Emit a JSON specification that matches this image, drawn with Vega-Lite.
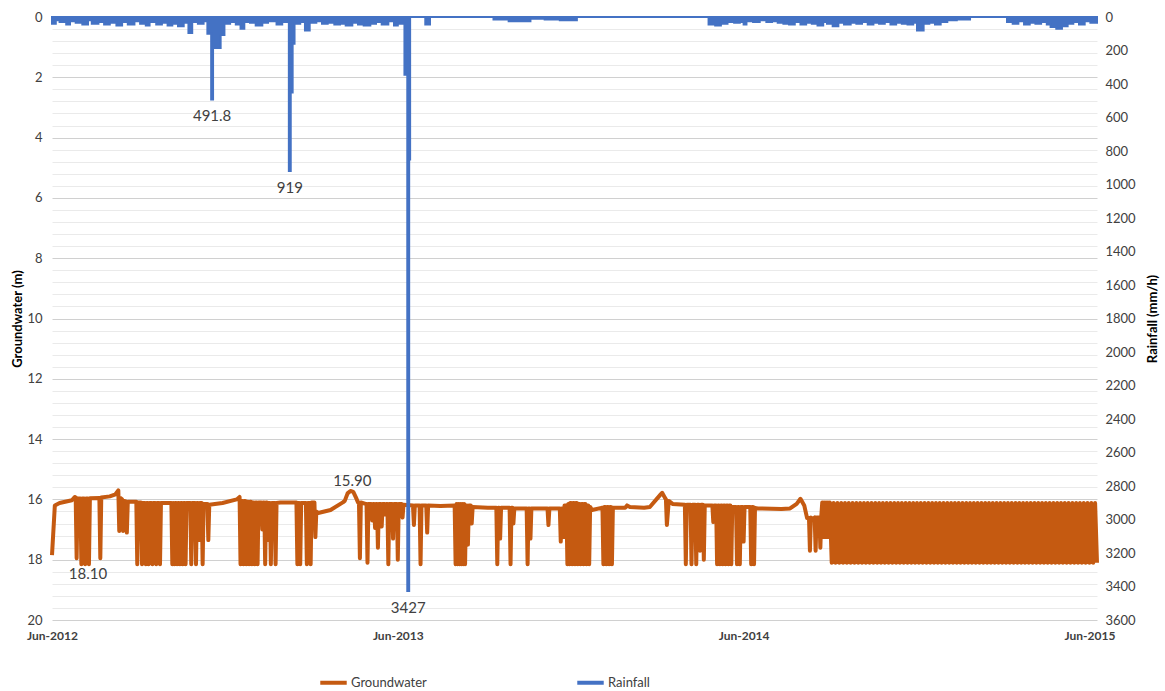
{
  "$schema": "https://vega.github.io/schema/vega-lite/v6.json",
  "width": 1045,
  "height": 603,
  "autosize": {"type": "none"},
  "padding": {"left": 52, "top": 17, "right": 68, "bottom": 71},
  "background": "white",
  "config": {"view": {"stroke": null}, "font": "Lato"},
  "datasets": {
    "gw": [
      {"date":"2012-06-01","gw":17.85},{"date":"2012-06-04","gw":16.2},{"date":"2012-06-09","gw":16.12},{"date":"2012-06-22","gw":16.03},{"date":"2012-06-25","gw":15.92},{"date":"2012-06-26","gw":15.93},{"date":"2012-06-27","gw":17.95},{"date":"2012-06-28","gw":15.97},
      {"date":"2012-07-01","gw":15.97},{"date":"2012-07-02","gw":18.15},{"date":"2012-07-03","gw":15.97},{"date":"2012-07-05","gw":15.97},{"date":"2012-07-06","gw":18.15},{"date":"2012-07-07","gw":15.97},{"date":"2012-07-09","gw":15.97},{"date":"2012-07-10","gw":18.15},{"date":"2012-07-11","gw":15.96},{"date":"2012-07-21","gw":15.95},{"date":"2012-07-22","gw":17.95},{"date":"2012-07-23","gw":15.94},
      {"date":"2012-08-01","gw":15.9},{"date":"2012-08-07","gw":15.83},{"date":"2012-08-10","gw":15.7},{"date":"2012-08-11","gw":17.05},{"date":"2012-08-12","gw":15.95},{"date":"2012-08-14","gw":16.0},{"date":"2012-08-15","gw":17.05},{"date":"2012-08-16","gw":16.05},{"date":"2012-08-18","gw":16.07},{"date":"2012-08-19","gw":17.1},{"date":"2012-08-20","gw":16.08},{"date":"2012-08-28","gw":16.08},{"date":"2012-08-29","gw":16.08},{"date":"2012-08-30","gw":18.15},{"date":"2012-08-31","gw":16.1},
      {"date":"2012-09-03","gw":16.1},{"date":"2012-09-04","gw":18.15},{"date":"2012-09-05","gw":16.12},{"date":"2012-09-07","gw":16.12},{"date":"2012-09-08","gw":18.15},{"date":"2012-09-09","gw":16.12},{"date":"2012-09-10","gw":16.12},{"date":"2012-09-11","gw":18.15},{"date":"2012-09-12","gw":16.12},{"date":"2012-09-14","gw":16.12},{"date":"2012-09-15","gw":18.15},{"date":"2012-09-16","gw":16.12},{"date":"2012-09-18","gw":16.12},{"date":"2012-09-19","gw":18.15},{"date":"2012-09-20","gw":16.12},{"date":"2012-09-22","gw":16.12},{"date":"2012-09-23","gw":18.15},{"date":"2012-09-24","gw":16.12},
      {"date":"2012-10-05","gw":16.12},{"date":"2012-10-06","gw":18.15},{"date":"2012-10-07","gw":16.12},{"date":"2012-10-08","gw":18.15},{"date":"2012-10-09","gw":16.12},{"date":"2012-10-10","gw":16.12},{"date":"2012-10-11","gw":18.15},{"date":"2012-10-12","gw":16.12},{"date":"2012-10-13","gw":16.12},{"date":"2012-10-14","gw":18.15},{"date":"2012-10-15","gw":16.12},{"date":"2012-10-16","gw":16.12},{"date":"2012-10-17","gw":18.15},{"date":"2012-10-18","gw":16.12},{"date":"2012-10-19","gw":16.12},{"date":"2012-10-20","gw":18.15},{"date":"2012-10-21","gw":16.12},{"date":"2012-10-25","gw":16.12},{"date":"2012-10-26","gw":18.15},{"date":"2012-10-27","gw":16.12},{"date":"2012-10-30","gw":16.12},{"date":"2012-10-31","gw":18.15},
      {"date":"2012-11-01","gw":16.12},{"date":"2012-11-02","gw":16.12},{"date":"2012-11-03","gw":17.35},{"date":"2012-11-04","gw":16.12},{"date":"2012-11-06","gw":16.12},{"date":"2012-11-07","gw":18.15},{"date":"2012-11-08","gw":16.15},{"date":"2012-11-12","gw":16.15},{"date":"2012-11-13","gw":17.35},{"date":"2012-11-14","gw":16.18},{"date":"2012-11-28","gw":16.12},
      {"date":"2012-12-13","gw":16.0},{"date":"2012-12-16","gw":15.92},{"date":"2012-12-17","gw":18.15},{"date":"2012-12-18","gw":16.05},{"date":"2012-12-19","gw":16.05},{"date":"2012-12-20","gw":18.15},{"date":"2012-12-21","gw":16.05},{"date":"2012-12-22","gw":16.05},{"date":"2012-12-23","gw":18.15},{"date":"2012-12-24","gw":16.08},{"date":"2012-12-25","gw":16.08},{"date":"2012-12-26","gw":18.15},{"date":"2012-12-27","gw":16.08},{"date":"2012-12-28","gw":16.08},{"date":"2012-12-29","gw":18.15},{"date":"2012-12-30","gw":16.1},{"date":"2012-12-31","gw":16.1},
      {"date":"2013-01-01","gw":18.15},{"date":"2013-01-02","gw":16.1},{"date":"2013-01-03","gw":16.1},{"date":"2013-01-04","gw":18.15},{"date":"2013-01-05","gw":16.1},{"date":"2013-01-08","gw":16.1},{"date":"2013-01-09","gw":17.0},{"date":"2013-01-10","gw":16.1},{"date":"2013-01-11","gw":16.1},{"date":"2013-01-12","gw":18.15},{"date":"2013-01-13","gw":16.1},{"date":"2013-01-14","gw":16.1},{"date":"2013-01-15","gw":17.35},{"date":"2013-01-16","gw":16.12},{"date":"2013-01-17","gw":16.12},{"date":"2013-01-18","gw":18.15},{"date":"2013-01-19","gw":16.12},{"date":"2013-01-22","gw":16.12},{"date":"2013-01-23","gw":18.15},{"date":"2013-01-24","gw":16.12},{"date":"2013-01-28","gw":16.1},
      {"date":"2013-02-10","gw":16.1},{"date":"2013-02-14","gw":16.1},{"date":"2013-02-15","gw":18.15},{"date":"2013-02-16","gw":16.12},{"date":"2013-02-17","gw":16.12},{"date":"2013-02-18","gw":18.15},{"date":"2013-02-19","gw":16.12},{"date":"2013-02-24","gw":16.12},{"date":"2013-02-25","gw":18.15},{"date":"2013-02-26","gw":16.12},{"date":"2013-02-28","gw":16.12},
      {"date":"2013-03-01","gw":18.15},{"date":"2013-03-02","gw":16.1},{"date":"2013-03-05","gw":16.1},{"date":"2013-03-06","gw":17.25},{"date":"2013-03-07","gw":16.4},{"date":"2013-03-09","gw":16.45},{"date":"2013-03-22","gw":16.35},
      {"date":"2013-04-04","gw":16.1},{"date":"2013-04-06","gw":16.05},{"date":"2013-04-09","gw":15.8},{"date":"2013-04-12","gw":15.72},{"date":"2013-04-15","gw":15.75},{"date":"2013-04-18","gw":15.95},{"date":"2013-04-20","gw":16.1},{"date":"2013-04-21","gw":16.1},{"date":"2013-04-22","gw":17.95},{"date":"2013-04-23","gw":16.1},{"date":"2013-04-28","gw":16.15},{"date":"2013-04-29","gw":16.15},{"date":"2013-04-30","gw":18.1},
      {"date":"2013-05-01","gw":16.15},{"date":"2013-05-04","gw":16.15},{"date":"2013-05-05","gw":16.7},{"date":"2013-05-06","gw":16.15},{"date":"2013-05-07","gw":16.15},{"date":"2013-05-08","gw":16.95},{"date":"2013-05-09","gw":16.15},{"date":"2013-05-10","gw":16.15},{"date":"2013-05-11","gw":17.6},{"date":"2013-05-12","gw":16.15},{"date":"2013-05-14","gw":16.15},{"date":"2013-05-15","gw":16.9},{"date":"2013-05-16","gw":16.15},{"date":"2013-05-18","gw":16.15},{"date":"2013-05-19","gw":16.5},{"date":"2013-05-20","gw":16.15},{"date":"2013-05-21","gw":16.15},{"date":"2013-05-22","gw":18.15},{"date":"2013-05-23","gw":16.15},{"date":"2013-05-26","gw":16.15},{"date":"2013-05-27","gw":17.3},{"date":"2013-05-28","gw":16.15},{"date":"2013-05-31","gw":16.15},
      {"date":"2013-06-01","gw":18.0},{"date":"2013-06-02","gw":16.15},{"date":"2013-06-05","gw":16.15},{"date":"2013-06-06","gw":16.6},{"date":"2013-06-07","gw":16.18},{"date":"2013-06-17","gw":16.2},{"date":"2013-06-18","gw":16.85},{"date":"2013-06-19","gw":16.2},{"date":"2013-06-24","gw":16.2},{"date":"2013-06-25","gw":18.15},{"date":"2013-06-26","gw":16.2},
      {"date":"2013-07-01","gw":16.2},{"date":"2013-07-02","gw":17.1},{"date":"2013-07-03","gw":16.2},{"date":"2013-07-16","gw":16.22},{"date":"2013-07-31","gw":16.2},
      {"date":"2013-08-01","gw":18.15},{"date":"2013-08-02","gw":16.15},{"date":"2013-08-03","gw":18.15},{"date":"2013-08-04","gw":16.15},{"date":"2013-08-05","gw":18.15},{"date":"2013-08-06","gw":16.15},{"date":"2013-08-07","gw":18.15},{"date":"2013-08-08","gw":16.15},{"date":"2013-08-09","gw":18.15},{"date":"2013-08-10","gw":16.15},{"date":"2013-08-11","gw":18.15},{"date":"2013-08-12","gw":16.2},{"date":"2013-08-13","gw":16.2},{"date":"2013-08-14","gw":17.5},{"date":"2013-08-15","gw":16.2},{"date":"2013-08-17","gw":16.2},{"date":"2013-08-18","gw":16.8},{"date":"2013-08-19","gw":16.25},
      {"date":"2013-09-04","gw":16.28},{"date":"2013-09-13","gw":16.28},{"date":"2013-09-14","gw":18.15},{"date":"2013-09-15","gw":16.28},{"date":"2013-09-16","gw":16.28},{"date":"2013-09-17","gw":17.3},{"date":"2013-09-18","gw":16.28},{"date":"2013-09-27","gw":16.28},{"date":"2013-09-28","gw":18.15},{"date":"2013-09-29","gw":16.28},{"date":"2013-09-30","gw":16.28},
      {"date":"2013-10-01","gw":16.8},{"date":"2013-10-02","gw":16.3},{"date":"2013-10-14","gw":16.3},{"date":"2013-10-15","gw":16.3},{"date":"2013-10-16","gw":18.15},{"date":"2013-10-17","gw":16.3},{"date":"2013-10-18","gw":16.3},{"date":"2013-10-19","gw":17.3},{"date":"2013-10-20","gw":16.3},
      {"date":"2013-11-06","gw":16.3},{"date":"2013-11-07","gw":16.85},{"date":"2013-11-08","gw":16.3},{"date":"2013-11-19","gw":16.3},{"date":"2013-11-20","gw":17.4},{"date":"2013-11-21","gw":16.3},{"date":"2013-11-22","gw":16.3},{"date":"2013-11-23","gw":17.25},{"date":"2013-11-24","gw":16.2},{"date":"2013-11-26","gw":16.2},{"date":"2013-11-27","gw":18.15},{"date":"2013-11-28","gw":16.15},{"date":"2013-11-29","gw":18.15},{"date":"2013-11-30","gw":16.12},
      {"date":"2013-12-01","gw":16.12},{"date":"2013-12-02","gw":18.15},{"date":"2013-12-03","gw":16.12},{"date":"2013-12-04","gw":16.12},{"date":"2013-12-05","gw":18.15},{"date":"2013-12-06","gw":16.12},{"date":"2013-12-07","gw":16.12},{"date":"2013-12-08","gw":18.15},{"date":"2013-12-09","gw":16.15},{"date":"2013-12-10","gw":16.15},{"date":"2013-12-11","gw":18.15},{"date":"2013-12-12","gw":16.15},{"date":"2013-12-13","gw":16.15},{"date":"2013-12-14","gw":18.15},{"date":"2013-12-15","gw":16.15},{"date":"2013-12-16","gw":16.15},{"date":"2013-12-17","gw":18.15},{"date":"2013-12-18","gw":16.2},{"date":"2013-12-19","gw":16.2},{"date":"2013-12-20","gw":18.15},{"date":"2013-12-21","gw":16.25},{"date":"2013-12-23","gw":16.35},
      {"date":"2014-01-02","gw":16.28},{"date":"2014-01-03","gw":16.28},{"date":"2014-01-04","gw":18.15},{"date":"2014-01-05","gw":16.25},{"date":"2014-01-06","gw":16.25},{"date":"2014-01-07","gw":18.15},{"date":"2014-01-08","gw":16.25},{"date":"2014-01-09","gw":16.25},{"date":"2014-01-10","gw":18.15},{"date":"2014-01-11","gw":16.25},{"date":"2014-01-12","gw":16.25},{"date":"2014-01-13","gw":18.15},{"date":"2014-01-14","gw":16.28},{"date":"2014-01-27","gw":16.28},{"date":"2014-01-29","gw":16.2},
      {"date":"2014-02-01","gw":16.25},{"date":"2014-02-16","gw":16.28},{"date":"2014-02-22","gw":16.25},
      {"date":"2014-03-05","gw":15.85},{"date":"2014-03-07","gw":15.78},{"date":"2014-03-10","gw":15.95},{"date":"2014-03-11","gw":16.0},{"date":"2014-03-12","gw":16.85},{"date":"2014-03-14","gw":16.05},{"date":"2014-03-18","gw":16.15},{"date":"2014-03-31","gw":16.18},
      {"date":"2014-04-01","gw":18.15},{"date":"2014-04-02","gw":16.18},{"date":"2014-04-06","gw":16.18},{"date":"2014-04-07","gw":18.15},{"date":"2014-04-08","gw":16.18},{"date":"2014-04-11","gw":16.18},{"date":"2014-04-12","gw":18.15},{"date":"2014-04-13","gw":16.18},{"date":"2014-04-15","gw":16.18},{"date":"2014-04-16","gw":17.7},{"date":"2014-04-17","gw":16.18},{"date":"2014-04-19","gw":16.18},{"date":"2014-04-20","gw":18.0},{"date":"2014-04-21","gw":16.2},{"date":"2014-04-29","gw":16.2},{"date":"2014-04-30","gw":16.75},
      {"date":"2014-05-01","gw":16.2},{"date":"2014-05-03","gw":16.2},{"date":"2014-05-04","gw":18.15},{"date":"2014-05-05","gw":16.2},{"date":"2014-05-06","gw":16.2},{"date":"2014-05-07","gw":18.15},{"date":"2014-05-08","gw":16.2},{"date":"2014-05-09","gw":16.2},{"date":"2014-05-10","gw":18.15},{"date":"2014-05-11","gw":16.2},{"date":"2014-05-12","gw":16.2},{"date":"2014-05-13","gw":18.15},{"date":"2014-05-14","gw":16.2},{"date":"2014-05-15","gw":16.2},{"date":"2014-05-16","gw":18.15},{"date":"2014-05-17","gw":16.2},{"date":"2014-05-18","gw":16.2},{"date":"2014-05-19","gw":18.15},{"date":"2014-05-20","gw":16.25},{"date":"2014-05-24","gw":16.25},{"date":"2014-05-25","gw":18.15},{"date":"2014-05-26","gw":16.25},{"date":"2014-05-27","gw":16.25},{"date":"2014-05-28","gw":18.15},{"date":"2014-05-29","gw":16.25},{"date":"2014-05-31","gw":16.25},
      {"date":"2014-06-01","gw":17.4},{"date":"2014-06-02","gw":16.25},{"date":"2014-06-08","gw":16.25},{"date":"2014-06-09","gw":18.15},{"date":"2014-06-10","gw":16.25},{"date":"2014-06-11","gw":16.25},{"date":"2014-06-12","gw":18.15},{"date":"2014-06-13","gw":16.28},{"date":"2014-06-16","gw":16.3},
      {"date":"2014-07-11","gw":16.32},{"date":"2014-07-20","gw":16.3},{"date":"2014-07-27","gw":16.15},{"date":"2014-07-31","gw":15.98},
      {"date":"2014-08-04","gw":16.2},{"date":"2014-08-07","gw":16.62},{"date":"2014-08-09","gw":16.62},{"date":"2014-08-10","gw":17.7},{"date":"2014-08-11","gw":16.6},{"date":"2014-08-13","gw":16.65},{"date":"2014-08-15","gw":16.6},{"date":"2014-08-16","gw":17.7},{"date":"2014-08-17","gw":16.6},{"date":"2014-08-20","gw":16.6},{"date":"2014-08-21","gw":17.6},{"date":"2014-08-22","gw":16.55},{"date":"2014-08-23","gw":16.1},{"date":"2014-08-24","gw":17.25},{"date":"2014-08-25","gw":16.1},{"date":"2014-08-26","gw":17.25},{"date":"2014-08-27","gw":16.1},{"date":"2014-08-28","gw":17.25},{"date":"2014-08-29","gw":16.1},{"date":"2014-08-30","gw":17.25},{"date":"2014-08-31","gw":16.1},
      {"date":"2014-09-02","gw":18.1},{"date":"2014-09-04","gw":16.12},{"date":"2014-09-06","gw":18.1},{"date":"2014-09-08","gw":16.12},{"date":"2014-09-10","gw":18.1},{"date":"2014-09-12","gw":16.12},{"date":"2014-09-14","gw":18.1},{"date":"2014-09-16","gw":16.12},{"date":"2014-09-18","gw":18.1},{"date":"2014-09-20","gw":16.12},{"date":"2014-09-22","gw":18.1},{"date":"2014-09-24","gw":16.12},{"date":"2014-09-26","gw":18.1},{"date":"2014-09-28","gw":16.12},{"date":"2014-09-30","gw":18.1},
      {"date":"2014-10-02","gw":16.12},{"date":"2014-10-04","gw":18.1},{"date":"2014-10-06","gw":16.12},{"date":"2014-10-08","gw":18.1},{"date":"2014-10-10","gw":16.12},{"date":"2014-10-12","gw":18.1},{"date":"2014-10-14","gw":16.12},{"date":"2014-10-16","gw":18.1},{"date":"2014-10-18","gw":16.12},{"date":"2014-10-20","gw":18.1},{"date":"2014-10-22","gw":16.12},{"date":"2014-10-24","gw":18.1},{"date":"2014-10-26","gw":16.12},{"date":"2014-10-28","gw":18.1},{"date":"2014-10-30","gw":16.12},
      {"date":"2014-11-01","gw":18.1},{"date":"2014-11-03","gw":16.12},{"date":"2014-11-05","gw":18.1},{"date":"2014-11-07","gw":16.12},{"date":"2014-11-09","gw":18.1},{"date":"2014-11-11","gw":16.12},{"date":"2014-11-13","gw":18.1},{"date":"2014-11-15","gw":16.12},{"date":"2014-11-17","gw":18.1},{"date":"2014-11-19","gw":16.12},{"date":"2014-11-21","gw":18.1},{"date":"2014-11-23","gw":16.12},{"date":"2014-11-25","gw":18.1},{"date":"2014-11-27","gw":16.12},{"date":"2014-11-29","gw":18.1},
      {"date":"2014-12-01","gw":16.12},{"date":"2014-12-03","gw":18.1},{"date":"2014-12-05","gw":16.12},{"date":"2014-12-07","gw":18.1},{"date":"2014-12-09","gw":16.12},{"date":"2014-12-11","gw":18.1},{"date":"2014-12-13","gw":16.12},{"date":"2014-12-15","gw":18.1},{"date":"2014-12-17","gw":16.12},{"date":"2014-12-19","gw":18.1},{"date":"2014-12-21","gw":16.12},{"date":"2014-12-23","gw":18.1},{"date":"2014-12-25","gw":16.12},{"date":"2014-12-27","gw":18.1},{"date":"2014-12-29","gw":16.12},{"date":"2014-12-31","gw":18.1},
      {"date":"2015-01-02","gw":16.12},{"date":"2015-01-04","gw":18.1},{"date":"2015-01-06","gw":16.12},{"date":"2015-01-08","gw":18.1},{"date":"2015-01-10","gw":16.12},{"date":"2015-01-12","gw":18.1},{"date":"2015-01-14","gw":16.12},{"date":"2015-01-16","gw":18.1},{"date":"2015-01-18","gw":16.12},{"date":"2015-01-20","gw":18.1},{"date":"2015-01-22","gw":16.12},{"date":"2015-01-24","gw":18.1},{"date":"2015-01-26","gw":16.12},{"date":"2015-01-28","gw":18.1},{"date":"2015-01-30","gw":16.12},
      {"date":"2015-02-01","gw":18.1},{"date":"2015-02-03","gw":16.12},{"date":"2015-02-05","gw":18.1},{"date":"2015-02-07","gw":16.12},{"date":"2015-02-09","gw":18.1},{"date":"2015-02-11","gw":16.12},{"date":"2015-02-13","gw":18.1},{"date":"2015-02-15","gw":16.12},{"date":"2015-02-17","gw":18.1},{"date":"2015-02-19","gw":16.12},{"date":"2015-02-21","gw":18.1},{"date":"2015-02-23","gw":16.12},{"date":"2015-02-25","gw":18.1},{"date":"2015-02-27","gw":16.12},
      {"date":"2015-03-01","gw":18.1},{"date":"2015-03-03","gw":16.12},{"date":"2015-03-05","gw":18.1},{"date":"2015-03-07","gw":16.12},{"date":"2015-03-09","gw":18.1},{"date":"2015-03-11","gw":16.12},{"date":"2015-03-13","gw":18.1},{"date":"2015-03-15","gw":16.12},{"date":"2015-03-17","gw":18.1},{"date":"2015-03-19","gw":16.12},{"date":"2015-03-21","gw":18.1},{"date":"2015-03-23","gw":16.12},{"date":"2015-03-25","gw":18.1},{"date":"2015-03-27","gw":16.12},{"date":"2015-03-29","gw":18.1},{"date":"2015-03-31","gw":16.12},
      {"date":"2015-04-02","gw":18.1},{"date":"2015-04-04","gw":16.12},{"date":"2015-04-06","gw":18.1},{"date":"2015-04-08","gw":16.12},{"date":"2015-04-10","gw":18.1},{"date":"2015-04-12","gw":16.12},{"date":"2015-04-14","gw":18.1},{"date":"2015-04-16","gw":16.12},{"date":"2015-04-18","gw":18.1},{"date":"2015-04-20","gw":16.12},{"date":"2015-04-22","gw":18.1},{"date":"2015-04-24","gw":16.12},{"date":"2015-04-26","gw":18.1},{"date":"2015-04-28","gw":16.12},{"date":"2015-04-30","gw":18.1},
      {"date":"2015-05-02","gw":16.12},{"date":"2015-05-04","gw":18.1},{"date":"2015-05-06","gw":16.12},{"date":"2015-05-08","gw":18.1},{"date":"2015-05-10","gw":16.12},{"date":"2015-05-12","gw":18.1},{"date":"2015-05-14","gw":16.12},{"date":"2015-05-16","gw":18.1},{"date":"2015-05-18","gw":16.12},{"date":"2015-05-20","gw":18.1},{"date":"2015-05-22","gw":16.12},{"date":"2015-05-24","gw":18.1},{"date":"2015-05-26","gw":16.12},{"date":"2015-05-28","gw":18.1},{"date":"2015-05-30","gw":16.12},
      {"date":"2015-06-01","gw":18.1},{"date":"2015-06-03","gw":16.12},{"date":"2015-06-05","gw":18.1},{"date":"2015-06-07","gw":16.12},{"date":"2015-06-09","gw":18.1}
    ],
    "rain": [
      {"date":"2012-06-01","rain":40},{"date":"2012-06-05","rain":20},{"date":"2012-06-09","rain":30},{"date":"2012-06-16","rain":45},{"date":"2012-06-20","rain":25},{"date":"2012-06-26","rain":35},
      {"date":"2012-07-03","rain":45},{"date":"2012-07-09","rain":20},{"date":"2012-07-13","rain":40},{"date":"2012-07-20","rain":30},{"date":"2012-07-26","rain":45},
      {"date":"2012-08-01","rain":35},{"date":"2012-08-08","rain":50},{"date":"2012-08-14","rain":30},{"date":"2012-08-20","rain":45},{"date":"2012-08-27","rain":25},
      {"date":"2012-09-02","rain":40},{"date":"2012-09-08","rain":50},{"date":"2012-09-12","rain":30},{"date":"2012-09-19","rain":45},{"date":"2012-09-25","rain":35},
      {"date":"2012-10-01","rain":50},{"date":"2012-10-06","rain":40},{"date":"2012-10-12","rain":55},{"date":"2012-10-18","rain":35},{"date":"2012-10-23","rain":95},{"date":"2012-10-27","rain":30},
      {"date":"2012-11-02","rain":40},{"date":"2012-11-08","rain":25},{"date":"2012-11-12","rain":100},{"date":"2012-11-16","rain":491.8},{"date":"2012-11-18","rain":185},{"date":"2012-11-26","rain":107},{"date":"2012-11-30","rain":40},
      {"date":"2012-12-06","rain":30},{"date":"2012-12-12","rain":45},{"date":"2012-12-17","rain":70},{"date":"2012-12-21","rain":30},{"date":"2012-12-27","rain":35},
      {"date":"2013-01-02","rain":50},{"date":"2013-01-09","rain":35},{"date":"2013-01-15","rain":25},{"date":"2013-01-24","rain":45},{"date":"2013-01-30","rain":30},
      {"date":"2013-02-06","rain":919},{"date":"2013-02-08","rain":450},{"date":"2013-02-10","rain":160},{"date":"2013-02-12","rain":40},{"date":"2013-02-18","rain":30},{"date":"2013-02-23","rain":80},{"date":"2013-02-28","rain":35},
      {"date":"2013-03-07","rain":25},{"date":"2013-03-13","rain":40},{"date":"2013-03-19","rain":35},{"date":"2013-03-26","rain":45},
      {"date":"2013-04-01","rain":40},{"date":"2013-04-07","rain":50},{"date":"2013-04-14","rain":35},{"date":"2013-04-20","rain":45},{"date":"2013-04-26","rain":50},
      {"date":"2013-05-03","rain":40},{"date":"2013-05-09","rain":30},{"date":"2013-05-15","rain":45},{"date":"2013-05-22","rain":25},{"date":"2013-05-28","rain":50},
      {"date":"2013-06-01","rain":40},{"date":"2013-06-08","rain":345},{"date":"2013-06-11","rain":3427},{"date":"2013-06-13","rain":850},{"date":"2013-06-14","rain":0},{"date":"2013-06-30","rain":45},
      {"date":"2013-07-05","rain":0},{"date":"2013-09-10","rain":15},{"date":"2013-09-26","rain":25},{"date":"2013-10-19","rain":10},{"date":"2013-11-03","rain":15},{"date":"2013-11-19","rain":20},{"date":"2013-12-07","rain":0},
      {"date":"2014-04-25","rain":45},{"date":"2014-05-02","rain":50},{"date":"2014-05-08","rain":40},{"date":"2014-05-15","rain":30},{"date":"2014-05-22","rain":35},{"date":"2014-05-28","rain":30},
      {"date":"2014-06-01","rain":45},{"date":"2014-06-04","rain":25},{"date":"2014-06-11","rain":30},{"date":"2014-06-18","rain":20},{"date":"2014-06-25","rain":30},
      {"date":"2014-07-01","rain":25},{"date":"2014-07-07","rain":35},{"date":"2014-07-13","rain":40},{"date":"2014-07-19","rain":45},{"date":"2014-07-25","rain":30},{"date":"2014-07-31","rain":45},
      {"date":"2014-08-06","rain":35},{"date":"2014-08-12","rain":40},{"date":"2014-08-18","rain":50},{"date":"2014-08-24","rain":30},{"date":"2014-08-28","rain":40},
      {"date":"2014-09-03","rain":55},{"date":"2014-09-09","rain":35},{"date":"2014-09-15","rain":45},{"date":"2014-09-22","rain":35},{"date":"2014-09-28","rain":40},
      {"date":"2014-10-04","rain":30},{"date":"2014-10-10","rain":45},{"date":"2014-10-16","rain":35},{"date":"2014-10-22","rain":40},{"date":"2014-10-28","rain":30},
      {"date":"2014-11-03","rain":45},{"date":"2014-11-09","rain":35},{"date":"2014-11-15","rain":40},{"date":"2014-11-21","rain":45},{"date":"2014-11-27","rain":35},
      {"date":"2014-12-01","rain":80},{"date":"2014-12-08","rain":40},{"date":"2014-12-14","rain":35},{"date":"2014-12-20","rain":45},{"date":"2014-12-26","rain":30},
      {"date":"2015-01-02","rain":20},{"date":"2015-01-12","rain":15},{"date":"2015-01-26","rain":0},
      {"date":"2015-03-06","rain":30},{"date":"2015-03-12","rain":40},{"date":"2015-03-18","rain":25},{"date":"2015-03-24","rain":45},{"date":"2015-03-30","rain":35},
      {"date":"2015-04-05","rain":40},{"date":"2015-04-11","rain":30},{"date":"2015-04-17","rain":45},{"date":"2015-04-21","rain":60},{"date":"2015-04-27","rain":70},
      {"date":"2015-05-03","rain":55},{"date":"2015-05-09","rain":40},{"date":"2015-05-15","rain":30},{"date":"2015-05-21","rain":45},{"date":"2015-05-27","rain":25},
      {"date":"2015-06-02","rain":35},{"date":"2015-06-09","rain":30}
    ],
    "gwlab": [
      {"date":"2012-07-09","gw":18.1,"label":"18.10"},
      {"date":"2013-04-14","gw":15.9,"label":"15.90"}
    ],
    "rainlab": [
      {"date":"2012-11-17","rain":491.8,"label":"491.8"},
      {"date":"2013-02-07","rain":919,"label":"919"},
      {"date":"2013-06-12","rain":3427,"label":"3427"}
    ]
  },
  "encoding": {
    "x": {
      "field": "date",
      "type": "temporal",
      "scale": {"type": "utc", "domain": ["2012-06-01", "2015-06-09"]},
      "axis": {
        "values": [
          {"year": 2012, "month": 6, "date": 1, "utc": true},
          {"year": 2013, "month": 6, "date": 1, "utc": true},
          {"year": 2014, "month": 6, "date": 1, "utc": true},
          {"year": 2015, "month": 6, "date": 1, "utc": true}
        ],
        "labelExpr": "utcFormat(datum.value, '%b-%Y')",
        "title": null,
        "grid": false,
        "ticks": false,
        "domain": false,
        "labelFontSize": 12,
        "labelFontWeight": "bold",
        "labelColor": "#404040",
        "labelPadding": 10,
        "labelFlush": false,
        "labelOverlap": false
      }
    }
  },
  "layer": [
    {
      "encoding": {
        "y": {
          "field": "gw",
          "type": "quantitative",
          "scale": {"domain": [0, 20], "reverse": true, "nice": false, "zero": false},
          "axis": {
            "orient": "left",
            "values": [0,0.4,0.8,1.2,1.6,2,2.4,2.8,3.2,3.6,4,4.4,4.8,5.2,5.6,6,6.4,6.8,7.2,7.6,8,8.4,8.8,9.2,9.6,10,10.4,10.8,11.2,11.6,12,12.4,12.8,13.2,13.6,14,14.4,14.8,15.2,15.6,16,16.4,16.8,17.2,17.6,18,18.4,18.8,19.2,19.6,20],
            "labelExpr": "datum.value % 2 === 0 ? format(datum.value, 'd') : ''",
            "labelOverlap": false,
            "ticks": false,
            "domain": false,
            "grid": true,
            "gridColor": {"condition": {"test": "datum.value % 2 === 0", "value": "#D0D0D0"}, "value": "#EAEAEA"},
            "gridWidth": 1,
            "labelFontSize": 13,
            "labelColor": "#404040",
            "labelPadding": 10,
            "title": "Groundwater (m)",
            "titleFontSize": 13,
            "titleFontWeight": "bold",
            "titleColor": "#000000",
            "titleX": -35,
            "titleBaseline": "middle"
          }
        }
      },
      "layer": [
        {
          "data": {"name": "gw"},
          "mark": {"type": "line", "strokeWidth": 4, "strokeJoin": "round"},
          "encoding": {
            "stroke": {
              "datum": "Groundwater",
              "type": "nominal",
              "scale": {"domain": ["Groundwater", "Rainfall"], "range": ["#C55A11", "#4472C4"]},
              "legend": {
                "orient": "none",
                "legendX": 266,
                "legendY": 650,
                "direction": "horizontal",
                "title": null,
                "symbolType": "stroke",
                "symbolStrokeWidth": 4,
                "symbolSize": 700,
                "labelFontSize": 13,
                "labelColor": "#404040",
                "labelOffset": 2,
                "columnPadding": 142
              }
            }
          }
        },
        {
          "data": {"name": "gwlab"},
          "transform": [{"filter": "datum.label === '15.90'"}],
          "mark": {"type": "text", "baseline": "alphabetic", "dy": -10, "fontSize": 15, "color": "#404040"},
          "encoding": {"text": {"field": "label"}}
        },
        {
          "data": {"name": "gwlab"},
          "transform": [{"filter": "datum.label === '18.10'"}],
          "mark": {"type": "text", "baseline": "alphabetic", "dy": 16, "fontSize": 15, "color": "#404040"},
          "encoding": {"text": {"field": "label"}}
        }
      ]
    },
    {
      "encoding": {
        "y": {
          "field": "rain",
          "type": "quantitative",
          "scale": {"domain": [0, 3600], "reverse": true, "nice": false},
          "axis": {
            "orient": "right",
            "values": [0,200,400,600,800,1000,1200,1400,1600,1800,2000,2200,2400,2600,2800,3000,3200,3400,3600],
            "format": "d",
            "grid": false,
            "ticks": false,
            "domain": false,
            "labelFontSize": 13,
            "labelColor": "#404040",
            "labelPadding": 8,
            "title": "Rainfall (mm/h)",
            "titleFontSize": 13,
            "titleFontWeight": "bold",
            "titleColor": "#000000",
            "titleAngle": 270,
            "titleX": 55,
            "titleBaseline": "middle"
          }
        }
      },
      "layer": [
        {
          "data": {"name": "rain"},
          "mark": {"type": "area", "interpolate": "step-after", "fill": "#4472C4", "fillOpacity": 1, "strokeWidth": 2},
          "encoding": {
            "stroke": {"datum": "Rainfall", "type": "nominal"}
          }
        },
        {
          "data": {"name": "rainlab"},
          "mark": {"type": "text", "baseline": "alphabetic", "dy": 22, "fontSize": 15, "color": "#404040"},
          "encoding": {"text": {"field": "label"}}
        }
      ]
    }
  ],
  "resolve": {"scale": {"y": "independent"}}
}
